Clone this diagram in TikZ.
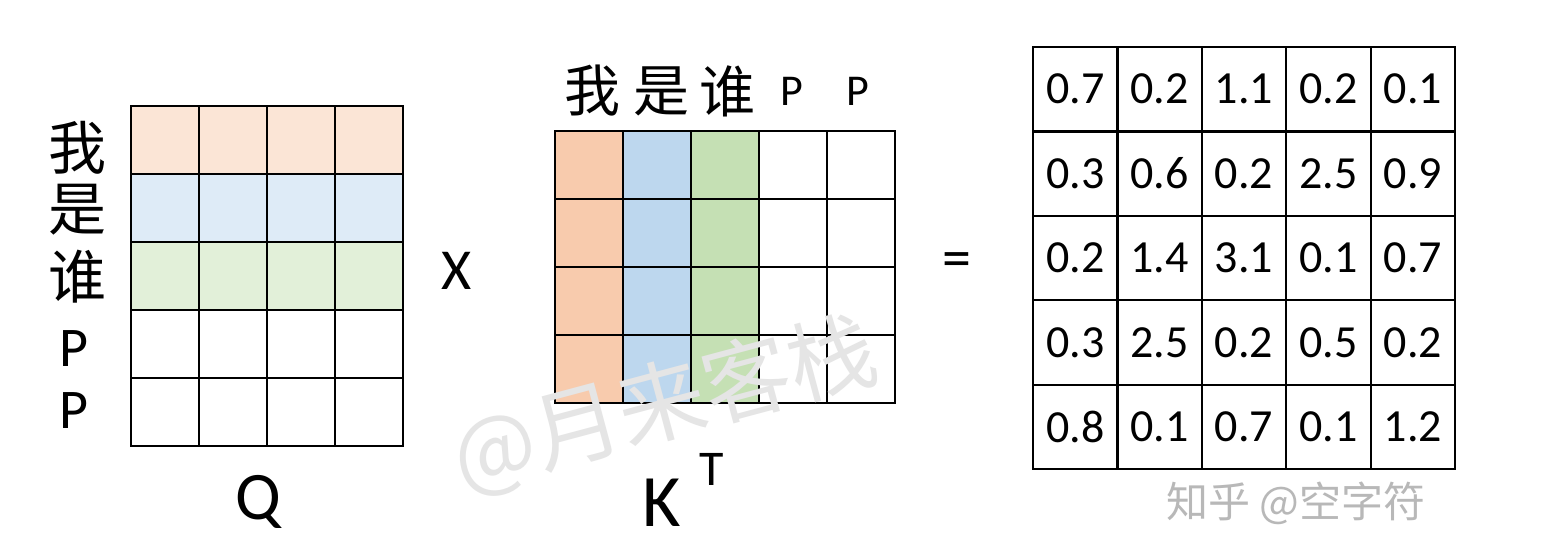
\documentclass[tikz,border=0pt]{standalone}
\usepackage{fontspec}
\setmainfont{Carlito}
\newfontfamily\cjk{Noto Sans CJK SC}
\definecolor{qo}{HTML}{FBE5D6}
\definecolor{qb}{HTML}{DEEBF7}
\definecolor{qg}{HTML}{E2F0D9}
\definecolor{ko}{HTML}{F8CBAD}
\definecolor{kb}{HTML}{BDD7EE}
\definecolor{kg}{HTML}{C5E0B4}
\begin{document}
\begin{tikzpicture}[x=0.5pt,y=-0.5pt,
  cell/.style={draw=black,line width=1.2pt,minimum width=34pt,minimum height=34pt,inner sep=0pt,outer sep=0pt},
  rcell/.style={draw=black,line width=1.1pt,minimum width=42.2pt,minimum height=42.2pt,inner sep=0pt,outer sep=0pt,font=\fontsize{23}{24}\selectfont},
  lab/.style={inner sep=0pt},
  cjkl/.style={lab,font=\cjk\fontsize{29}{30}\selectfont},
  cjkt/.style={lab,font=\cjk\fontsize{28}{29}\selectfont},
  wm/.style={lab,text=black!28}]
\useasboundingbox[fill=white] (0,0) rectangle (1552,542);
% Q matrix
\foreach \r/\col in {0/qo,1/qb,2/qg,3/white,4/white}
  \foreach \c in {0,...,3}
    \node[cell,fill=\col] (q-\r-\c) at ({165+68*\c},{140+68*\r}) {};
% K^T matrix
\foreach \c/\col in {0/ko,1/kb,2/kg,3/white,4/white}
  \foreach \r in {0,...,3}
    \node[cell,fill=\col] (k-\r-\c) at ({589+68*\c},{165+68*\r}) {};
% result matrix
\foreach \row [count=\r from 0] in {{0.7,0.2,1.1,0.2,0.1},{0.3,0.6,0.2,2.5,0.9},{0.2,1.4,3.1,0.1,0.7},{0.3,2.5,0.2,0.5,0.2},{0.8,0.1,0.7,0.1,1.2}}
  \foreach \v [count=\c from 0] in \row
    \node[rcell] (s-\r-\c) at ({1075.2+84.4*\c},{89.2+84.4*\r}) {\v};
% left labels
\node[cjkl] (lw) at (77,148) {我};
\node[cjkl] (ls) at (77,210) {是};
\node[cjkl] (lh) at (77,277) {谁};
\node[lab,font=\fontsize{28}{29}\selectfont] (lp1) at (74,349) {P};
\node[lab,font=\fontsize{28}{29}\selectfont] (lp2) at (74,411) {P};
% top labels
\node[cjkt] (tw) at (592,91) {我};
\node[cjkt] (ts) at (661,91) {是};
\node[cjkt] (th) at (727,91) {谁};
\node[lab,font=\fontsize{22}{23}\selectfont] (tp1) at (792,91) {P};
\node[lab,font=\fontsize{22}{23}\selectfont] (tp2) at (858,91) {P};
% operators and names
\node[lab,font=\fontsize{29}{30}\selectfont] (times) at (457,271) {X};
\node[lab,font=\fontsize{29}{30}\selectfont] (eq) at (957,265) {=};
\node[lab,font=\fontsize{34}{35}\selectfont] (qname) at (258,502) {Q};
\node[lab,font=\fontsize{37}{38}\selectfont] (kname) at (662,503) {K};
\node[lab,font=\fontsize{25}{26}\selectfont] (tname) at (712,469) {T};
% watermarks
\node[lab,text=black!10,rotate=15,font=\cjk\fontsize{44}{46}\selectfont] (wm1) at (665,405) {@月来客栈};
\node[wm,font=\cjk\fontsize{21}{22}\selectfont] (wm2) at (1296,503) {知乎 @空字符};
\end{tikzpicture}
\end{document}
